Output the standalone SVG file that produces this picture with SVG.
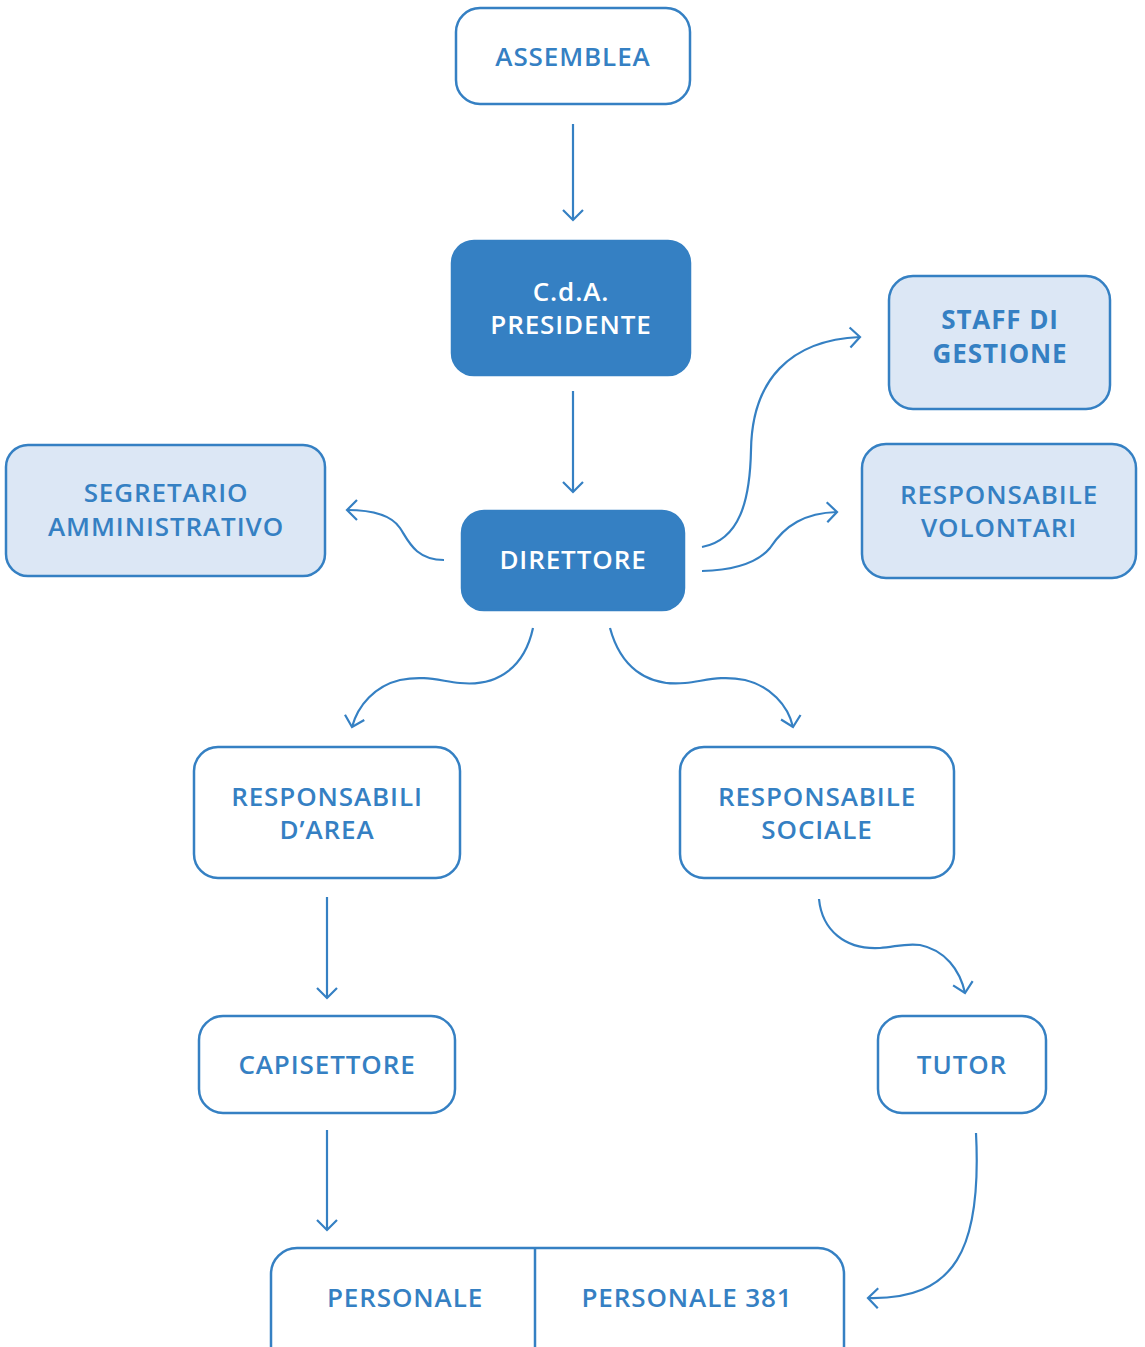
<svg xmlns="http://www.w3.org/2000/svg" width="1145" height="1347" viewBox="0 0 1145 1347">
<style>
.box{fill:#ffffff;stroke:#3580c3;stroke-width:2.5}
.dark{fill:#3580c3;stroke:#3580c3;stroke-width:2.5}
.light{fill:#dce7f5;stroke:#3580c3;stroke-width:2.5}
.t{font-family:"Open Sans","Noto Sans",sans-serif;font-size:26px;font-weight:600;fill:#3580c3;text-anchor:middle;letter-spacing:0.9px}
.w{fill:#ffffff}
.b{font-weight:700}
.c{fill:none;stroke:#3580c3;stroke-width:2.2;marker-end:url(#ah)}
</style>
<defs>
<marker id="ah" viewBox="-12 -12 14 24" markerWidth="14" markerHeight="24" refX="0" refY="0" orient="auto" markerUnits="userSpaceOnUse">
<path d="M-10,-10 L0,0 L-10,10" fill="none" stroke="#3580c3" stroke-width="2.2"/>
</marker>
</defs>
<g id="connectors">
<path class="c" d="M573,124 L573,220"/>
<path class="c" d="M573,391 L573,492"/>
<path class="c" d="M444,560 C415,560 408,540 400,528 C392,516 375,510 347,510"/>
<path class="c" d="M702,547 C740,540 750,500 751,450 C752,380 790,340 860,337"/>
<path class="c" d="M702,571 C740,570 760,560 770,548 C785,525 805,513 837,512"/>
<path class="c" d="M533,628 C525,665 500,687 460,683 C440,681 425,675 400,680 C375,686 358,705 352,727"/>
<path class="c" d="M610,628 C620,665 645,687 685,683 C705,681 720,675 745,680 C770,686 788,705 793,727"/>
<path class="c" d="M327,897 L327,998"/>
<path class="c" d="M327,1130 L327,1230"/>
<path class="c" d="M819,899 C822,930 845,950 880,948 C895,947 905,943 920,945 C945,950 960,970 965,993"/>
<path class="c" d="M976,1133 C982,1250 955,1300 868,1298"/>
</g>
<g id="assemblea">
<rect class="box" x="456" y="8" width="234" height="96" rx="24"/>
<text class="t" x="573" y="66">ASSEMBLEA</text>
</g>
<g id="cda">
<rect class="dark" x="452" y="241" width="238" height="134" rx="22"/>
<text class="t w" x="571" y="301">C.d.A.</text>
<text class="t w" x="571" y="334">PRESIDENTE</text>
</g>
<g id="direttore">
<rect class="dark" x="462" y="511" width="222" height="99" rx="22"/>
<text class="t w" x="573" y="569">DIRETTORE</text>
</g>
<g id="segretario">
<rect class="light" x="6" y="445" width="319" height="131" rx="22"/>
<text class="t" x="166" y="502">SEGRETARIO</text>
<text class="t" x="166" y="536">AMMINISTRATIVO</text>
</g>
<g id="staff">
<rect class="light" x="889" y="276" width="221" height="133" rx="24"/>
<text class="t b" x="1000" y="329">STAFF DI</text>
<text class="t b" x="1000" y="363">GESTIONE</text>
</g>
<g id="volontari">
<rect class="light" x="862" y="444" width="274" height="134" rx="24"/>
<text class="t" x="999" y="504">RESPONSABILE</text>
<text class="t" x="999" y="537">VOLONTARI</text>
</g>
<g id="resp-area">
<rect class="box" x="194" y="747" width="266" height="131" rx="24"/>
<text class="t" x="327" y="806">RESPONSABILI</text>
<text class="t" x="327" y="839">D’AREA</text>
</g>
<g id="resp-sociale">
<rect class="box" x="680" y="747" width="274" height="131" rx="24"/>
<text class="t" x="817" y="806">RESPONSABILE</text>
<text class="t" x="817" y="839">SOCIALE</text>
</g>
<g id="capisettore">
<rect class="box" x="199" y="1016" width="256" height="97" rx="24"/>
<text class="t" x="327" y="1074">CAPISETTORE</text>
</g>
<g id="tutor">
<rect class="box" x="878" y="1016" width="168" height="97" rx="24"/>
<text class="t" x="962" y="1074">TUTOR</text>
</g>
<g id="personale">
<rect class="box" x="271" y="1248" width="573" height="130" rx="26"/>
<line x1="535" y1="1248" x2="535" y2="1347" stroke="#3580c3" stroke-width="2.5"/>
<text class="t" x="405" y="1307">PERSONALE</text>
<text class="t" x="687" y="1307">PERSONALE 381</text>
</g>
</svg>
